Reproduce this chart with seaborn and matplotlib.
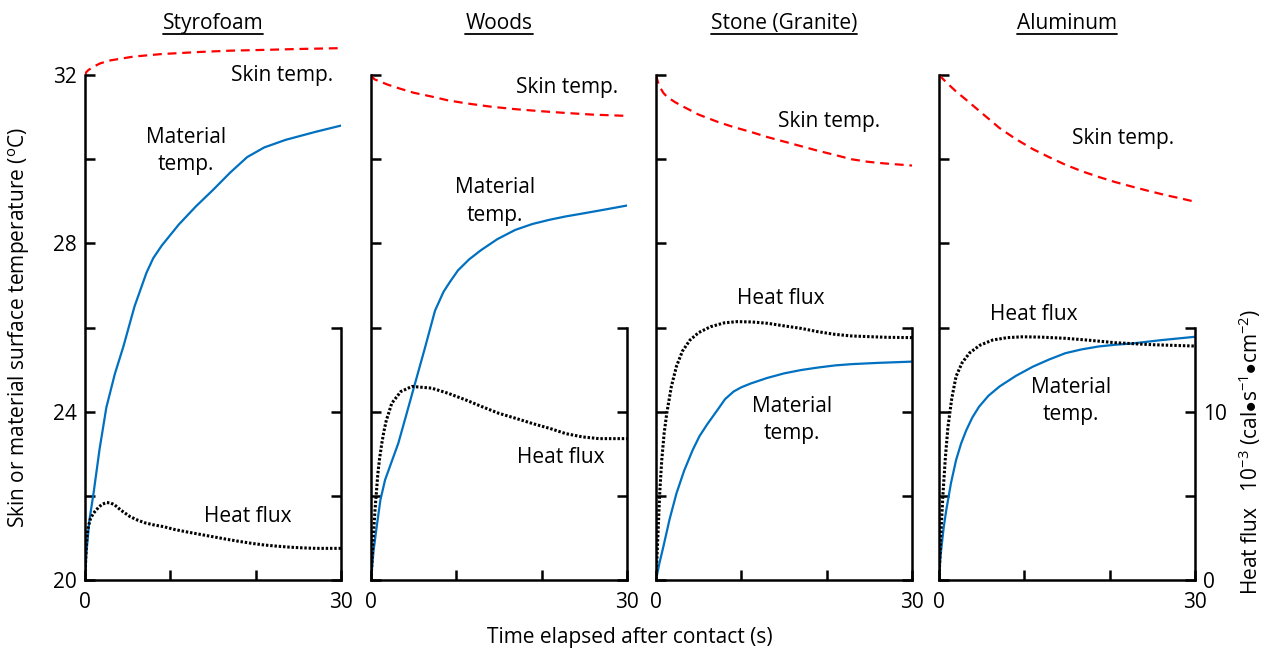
import numpy as np
import pandas as pd
import seaborn as sns
import matplotlib.pyplot as plt
from matplotlib.lines import Line2D

# Materials (panel titles)
materials = ["Styrofoam", "Woods", "Stone (Granite)", "Aluminum"]

# Skin temperature (deg C)
skin_t = [
    [0, 0.15, 0.4, 1.0, 1.8, 3, 5.7, 9, 13.5, 17, 21.3, 25, 30],
    [0, 0.4, 1, 2, 3.2, 5, 7.1, 9, 11.1, 14, 16.9, 20, 22.8, 26, 30],
    [0, 0.25, 0.5, 0.85, 1.26, 2.2, 3.2, 5, 7.2, 9, 11.1, 13, 15, 17, 19, 21, 22.9, 24.8, 26.8, 30],
    [0, 1, 2, 3.2, 5, 7.1, 9, 11, 13, 14.8, 16.8, 18.7, 20.6, 22.6, 24.5, 26.5, 28.3, 30],
]
skin_v = [
    [32.0, 32.07, 32.12, 32.2, 32.28, 32.35, 32.44, 32.5, 32.55, 32.58, 32.6, 32.62, 32.64],
    [32.0, 31.9, 31.85, 31.77, 31.69, 31.58, 31.49, 31.4, 31.33, 31.25, 31.19, 31.14, 31.1, 31.06, 31.03],
    [32.0, 31.82, 31.7, 31.58, 31.49, 31.36, 31.25, 31.06, 30.89, 30.77, 30.65, 30.53, 30.42, 30.31,
     30.2, 30.1, 30.0, 29.94, 29.9, 29.85],
    [32.0, 31.8, 31.61, 31.41, 31.1, 30.74, 30.48, 30.24, 30.04, 29.87, 29.71, 29.58, 29.46, 29.35,
     29.25, 29.15, 29.07, 28.99],
]

# Material surface temperature (deg C)
mat_t = [
    [0, 0.15, 0.5, 1.0, 1.7, 2.5, 3.5, 4.5, 5.8, 7.2, 8, 9, 11, 13, 15, 17, 19, 21, 23.5, 27, 30],
    [0, 0.3, 0.67, 1.1, 1.65, 2.4, 3.2, 4.1, 5.06, 6.3, 7.5, 8.5, 9.3, 10.2, 11.5, 12.9, 14.8, 16.9,
     18.9, 20.9, 22.8, 24.8, 27.3, 30],
    [0, 0.4, 0.86, 1.6, 2.4, 3.3, 4.3, 5.1, 6, 7.2, 8.1, 9.1, 10, 11.1, 13, 15, 17, 19, 21, 22.9, 26, 30],
    [0, 0.15, 0.3, 0.55, 0.85, 1.4, 2.0, 2.6, 3.2, 3.9, 4.7, 5.8, 7.1, 9, 11, 12.9, 14.8, 16.7, 18.7,
     20.6, 22.6, 26, 30],
]
mat_v = [
    [20, 20.6, 21.4, 22.06, 23.1, 24.1, 24.9, 25.55, 26.5, 27.3, 27.65, 27.95, 28.45, 28.88, 29.27,
     29.68, 30.05, 30.28, 30.46, 30.65, 30.8],
    [20, 20.7, 21.27, 21.9, 22.38, 22.8, 23.25, 23.9, 24.6, 25.5, 26.4, 26.85, 27.1, 27.36, 27.62,
     27.84, 28.1, 28.32, 28.46, 28.56, 28.64, 28.71, 28.8, 28.9],
    [20, 20.4, 20.79, 21.45, 22.06, 22.6, 23.09, 23.42, 23.7, 24.04, 24.3, 24.48, 24.58, 24.67, 24.8,
     24.91, 24.99, 25.05, 25.1, 25.13, 25.16, 25.19],
    [20, 20.5, 20.8, 21.25, 21.66, 22.3, 22.85, 23.25, 23.56, 23.86, 24.12, 24.38, 24.6, 24.85, 25.07,
     25.24, 25.39, 25.48, 25.55, 25.59, 25.62, 25.7, 25.78],
]

# Heat flux (10^-3 cal/s/cm2)
flux_t = [
    [0, 0.08, 0.15, 0.25, 0.4, 0.65, 0.98, 1.56, 2.0, 2.54, 3.0, 3.5, 4.2, 5.3, 6.2, 7, 8, 9.2, 10.5,
     12, 13.5, 15, 16.5, 18, 19.5, 21, 22.5, 24, 25.5, 27, 30],
    [0, 0.2, 0.47, 0.8, 1.0, 1.26, 1.5, 1.8, 2.0, 2.43, 3.5, 4.8, 7.1, 9, 11.1, 13, 15, 17, 18.9, 21,
     22.8, 24.8, 26.7, 28, 30],
    [0, 0.15, 0.27, 0.45, 0.67, 0.95, 1.26, 1.8, 2.4, 3.1, 3.97, 5, 6.4, 8, 9.5, 11.3, 13.1, 15, 17,
     19, 20.9, 22.9, 24.9, 27, 30],
    [0, 0.1, 0.2, 0.33, 0.47, 0.75, 1.05, 1.5, 2.0, 2.7, 3.6, 4.8, 6.3, 8, 9.8, 12, 14.8, 17.5, 20.6,
     25, 30],
]
flux_v = [
    [0, 1.2, 2.0, 2.7, 3.2, 3.65, 3.96, 4.3, 4.5, 4.6, 4.58, 4.45, 4.15, 3.76, 3.55, 3.4, 3.28, 3.17,
     3.0, 2.85, 2.71, 2.57, 2.43, 2.3, 2.18, 2.08, 2.01, 1.95, 1.91, 1.88, 1.88],
    [0, 2.0, 4.16, 6.3, 7.2, 8.1, 8.8, 9.5, 9.8, 10.5, 11.2, 11.5, 11.4, 11.1, 10.7, 10.3, 9.9, 9.6,
     9.3, 9.0, 8.7, 8.5, 8.4, 8.4, 8.4],
    [0, 1.8, 3.2, 5.3, 7.1, 8.7, 9.9, 11.5, 12.7, 13.6, 14.25, 14.7, 15.05, 15.28, 15.35, 15.33, 15.25,
     15.1, 14.95, 14.75, 14.6, 14.5, 14.46, 14.42, 14.4],
    [0, 1.3, 2.5, 3.8, 5.15, 7.3, 9.1, 10.8, 12.1, 12.9, 13.5, 13.95, 14.26, 14.4, 14.45, 14.43, 14.36,
     14.25, 14.1, 13.98, 13.9],
]

# label positions (time, temperature) for each panel
skin_lab = [(23.1, 32.0), (23.0, 31.7), (20.3, 30.9), (21.6, 30.5)]
mat_lab = [(11.8, 30.2), (14.5, 29.0), (15.9, 23.8), (15.5, 24.25)]
flux_lab = [(19.1, 21.52), (22.2, 22.9), (14.6, 26.7), (11.1, 26.3)]

sns.set_style("ticks")
plt.rcParams['font.family'] = ['Open Sans', 'DejaVu Sans']
plt.rcParams['mathtext.fontset'] = 'custom'
plt.rcParams['mathtext.rm'] = 'Open Sans'
plt.rcParams['mathtext.it'] = 'Open Sans:italic'
plt.rcParams['mathtext.bf'] = 'Open Sans:bold'
for k in ['text.color', 'axes.labelcolor', 'xtick.color', 'ytick.color', 'axes.edgecolor']:
    plt.rcParams[k] = 'black'

W, H = 1262, 648
fig = plt.figure(figsize=(W / 100, H / 100), dpi=100)
lefts = [85, 371, 656, 939]
fs = 15

titles = []
for i, name in enumerate(materials):
    ax = fig.add_axes([lefts[i] / W, 68 / H, 256 / W, 547 / H])
    ax2 = ax.twinx()
    ax.set_xlim(0, 30)
    ax.set_ylim(20, 33)
    ax2.set_ylim(0, 32.5)

    sns.lineplot(x=skin_t[i], y=skin_v[i], ax=ax, color='#FF0000', lw=1.6,
                 linestyle=(0, (4, 2.6)))
    sns.lineplot(x=mat_t[i], y=mat_v[i], ax=ax, color='#0070C0', lw=1.6)
    sns.lineplot(x=flux_t[i], y=flux_v[i], ax=ax2, color='black', lw=2.2,
                 linestyle=(0, (0.8, 0.6)))

    for s in ['top', 'right']:
        ax.spines[s].set_visible(False)
    for s in ['top', 'left', 'bottom']:
        ax2.spines[s].set_visible(False)
    ax.spines['left'].set_bounds(20, 32)
    ax2.spines['right'].set_bounds(0, 15)
    for sp in list(ax.spines.values()) + list(ax2.spines.values()):
        sp.set_linewidth(1.8)
        sp.set_color('black')

    ax.set_xticks([0, 10, 20, 30], ['0', '', '', '30'])
    ax.set_yticks(np.arange(20, 33, 2))
    if i == 0:
        ax.set_yticklabels(['20', '', '24', '', '28', '', '32'])
    else:
        ax.set_yticklabels([])
    ax2.set_yticks([0, 5, 10, 15])
    if i == 3:
        ax2.set_yticklabels(['0', '', '10', ''])
    else:
        ax2.set_yticklabels([])
    for a in (ax, ax2):
        a.tick_params(direction='in', length=7, width=1.8, labelsize=fs, pad=6, color='black')
    ax.tick_params(axis='x', pad=9)
    ax.set_xlabel('')
    ax.set_ylabel('')
    ax2.set_ylabel('')

    ax.text(*skin_lab[i], 'Skin temp.', ha='center', va='center', fontsize=fs)
    ax.text(*mat_lab[i], 'Material\ntemp.', ha='center', va='center', fontsize=fs,
            linespacing=1.4)
    ax.text(*flux_lab[i], 'Heat flux', ha='center', va='center', fontsize=fs)

    cx = (lefts[i] + 128) / W
    titles.append(fig.text(cx, 1 - 29 / H, name, ha='center', va='baseline', fontsize=fs))

fig.text(630 / W, 1 - 637 / H, 'Time elapsed after contact (s)', ha='center',
         va='center', fontsize=fs)
fig.text(19 / W, 1 - 328 / H, 'Skin or material surface temperature ($^{\\mathrm{o}}$C)',
         ha='center', va='center', rotation=90, fontsize=fs)
fig.text(1250 / W, 1 - 452 / H,
         'Heat flux   10$^{-3}$ (cal$\\bullet$s$^{-1}$$\\bullet$cm$^{-2}$)',
         ha='center', va='center', rotation=90, fontsize=fs)

# underline the panel titles
fig.canvas.draw()
r = fig.canvas.get_renderer()
for t in titles:
    bb = t.get_window_extent(r)
    y = 1 - 34 / H
    fig.add_artist(Line2D([bb.x0 / W, bb.x1 / W], [y, y], color='black', lw=1.3))

fig.savefig('out.png', dpi=100)
